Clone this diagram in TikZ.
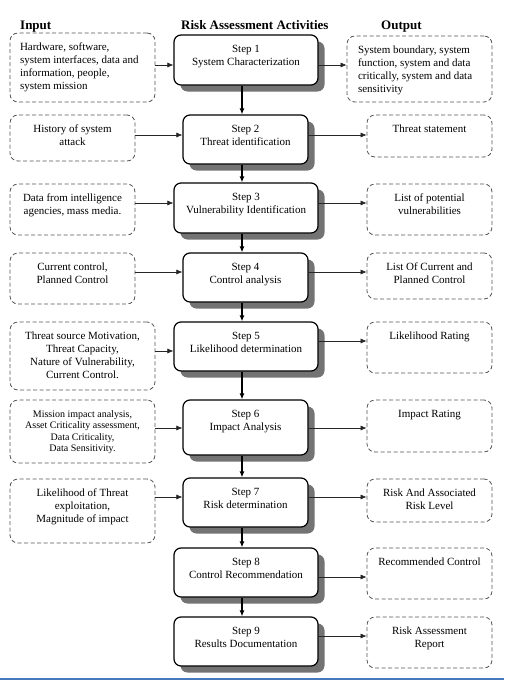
\documentclass[tikz,border=0pt]{standalone}
\usepackage{fontspec}
\setmainfont{Liberation Serif}
\usetikzlibrary{arrows.meta,shadows}
\definecolor{dashgray}{RGB}{85,85,85}
\definecolor{shadowgray}{RGB}{115,115,115}
\definecolor{edgeblue}{RGB}{70,120,190}
\newcommand\ctb[3]{\parbox[c][#2][t]{#1}{\centering\rule{0pt}{17pt}#3}}
\newcommand\ltb[3]{\parbox[c][#2][t]{#1}{\raggedright\rule{0pt}{17pt}#3}}
\begin{document}
\begin{tikzpicture}[x=1pt,y=-1pt,
  stepbox/.style={draw, line width=1.2pt, rounded corners=7pt, fill=white, inner sep=0pt,
    drop shadow={shadow xshift=6.5pt, shadow yshift=-6.5pt, fill=shadowgray, opacity=1},
    font=\fontsize{11}{13}\selectfont},
  iobox/.style={draw=dashgray, line width=0.8pt, dash pattern=on 4pt off 2.5pt, rounded corners=8pt,
    inner sep=0pt, fill=white, font=\fontsize{11}{13}\selectfont},
  hdr/.style={font=\fontsize{13}{15}\selectfont\bfseries, anchor=base west, inner sep=0pt},
  varr/.style={line width=1.3pt, -{Latex[length=6pt,width=5pt]}},
  harr/.style={line width=0.6pt, black!85, -{Latex[length=6pt,width=5pt]}}
]
\useasboundingbox (0,0) rectangle (504,680);
\fill[edgeblue] (0,678) rectangle (504,680);

% headers
\node[hdr] (hin) at (20,29.5) {Input};
\node[hdr] (hra) at (181,29.5) {Risk Assessment Activities};
\node[hdr] (hout) at (381,29.5) {Output};

% steps
\node[stepbox, minimum width=144pt, minimum height=50pt] (s1) at (246,60) {\ctb{140pt}{50pt}{Step 1\\System Characterization}};
\node[stepbox, minimum width=125pt, minimum height=49pt] (s2) at (245.5,139.5) {\ctb{121pt}{49pt}{Step 2\\Threat identification}};
\node[stepbox, minimum width=144pt, minimum height=50pt] (s3) at (246,208) {\ctb{140pt}{50pt}{Step 3\\Vulnerability Identification}};
\node[stepbox, minimum width=125pt, minimum height=49pt] (s4) at (245.5,277.5) {\ctb{121pt}{49pt}{Step 4\\Control analysis}};
\node[stepbox, minimum width=144pt, minimum height=49pt] (s5) at (246,346.5) {\ctb{140pt}{49pt}{Step 5\\Likelihood determination}};
\node[stepbox, minimum width=125pt, minimum height=55pt] (s6) at (245.5,427.5) {\ctb{121pt}{55pt}{Step 6\\Impact Analysis}};
\node[stepbox, minimum width=125pt, minimum height=49pt] (s7) at (245.5,502.5) {\ctb{121pt}{49pt}{Step 7\\Risk determination}};
\node[stepbox, minimum width=144pt, minimum height=49pt] (s8) at (246,572.5) {\ctb{140pt}{49pt}{Step 8\\Control Recommendation}};
\node[stepbox, minimum width=144pt, minimum height=49pt] (s9) at (246,641.5) {\ctb{140pt}{49pt}{Step 9\\Results Documentation}};

% inputs
\node[iobox, minimum width=145pt, minimum height=69pt] (i1) at (82.5,67.5) {\ltb{125pt}{69pt}{Hardware, software,\\system interfaces, data and\\information, people,\\system mission}};
\node[iobox, minimum width=125pt, minimum height=46pt] (i2) at (72.5,138) {\ctb{120pt}{46pt}{History of system\\attack}};
\node[iobox, minimum width=125pt, minimum height=51pt] (i3) at (72.5,209.5) {\ctb{120pt}{51pt}{Data from intelligence\\agencies, mass media.}};
\node[iobox, minimum width=125pt, minimum height=51pt] (i4) at (72.5,278.5) {\ctb{120pt}{51pt}{Current control,\\Planned Control}};
\node[iobox, minimum width=145pt, minimum height=68pt] (i5) at (82.5,356) {\ctb{140pt}{68pt}{Threat source Motivation,\\Threat Capacity,\\Nature of Vulnerability,\\Current Control.}};
\node[iobox, minimum width=145pt, minimum height=63pt, font=\fontsize{10}{11.5}\selectfont] (i6) at (82.5,431.5) {\ctb{140pt}{63pt}{Mission impact analysis,\\Asset Criticality assessment,\\Data Criticality,\\Data Sensitivity.}};
\node[iobox, minimum width=145pt, minimum height=64pt] (i7) at (82.5,511) {\ctb{140pt}{64pt}{Likelihood of Threat\\exploitation,\\Magnitude of impact}};

% outputs
\node[iobox, minimum width=145pt, minimum height=66pt] (o1) at (419.5,69) {\ltb{123pt}{66pt}{System boundary, system\\function, system and data\\critically, system and data\\sensitivity}};
\node[iobox, minimum width=125pt, minimum height=42pt] (o2) at (429.5,136) {\ctb{120pt}{42pt}{Threat statement}};
\node[iobox, minimum width=125pt, minimum height=51pt] (o3) at (429.5,209.5) {\ctb{120pt}{51pt}{List of potential\\vulnerabilities}};
\node[iobox, minimum width=125pt, minimum height=46pt] (o4) at (429.5,276) {\ctb{120pt}{46pt}{List Of Current and\\Planned Control}};
\node[iobox, minimum width=125pt, minimum height=51pt] (o5) at (429.5,347.5) {\ctb{120pt}{51pt}{Likelihood Rating}};
\node[iobox, minimum width=125pt, minimum height=52pt] (o6) at (429.5,426) {\ctb{120pt}{52pt}{Impact Rating}};
\node[iobox, minimum width=125pt, minimum height=43pt] (o7) at (429.5,500.5) {\ctb{120pt}{43pt}{Risk And Associated\\Risk Level}};
\node[iobox, minimum width=125pt, minimum height=51pt] (o8) at (429.5,573.5) {\ctb{122pt}{51pt}{Recommended Control}};
\node[iobox, minimum width=125pt, minimum height=51pt] (o9) at (429.5,642.5) {\ctb{120pt}{51pt}{Risk Assessment\\Report}};

% row coordinates
\coordinate (r1) at (0,65);
\coordinate (r2) at (0,135);
\coordinate (r3) at (0,203);
\coordinate (r4) at (0,272);
\coordinate (r5a) at (0,351);
\coordinate (r5b) at (0,341);
\coordinate (r6) at (0,428);
\coordinate (r7) at (0,497);
\coordinate (r8) at (0,577);
\coordinate (r9) at (0,636);
\coordinate (vx) at (242,0);

% horizontal arrows
\draw[harr] (i1.east |- r1) -- (s1.west |- r1);
\draw[harr] (s1.east |- r1) -- (o1.west |- r1);
\draw[harr] (i2.east |- r2) -- (s2.west |- r2);
\draw[harr] (s2.east |- r2) -- (o2.west |- r2);
\draw[harr] (i3.east |- r3) -- (s3.west |- r3);
\draw[harr] (s3.east |- r3) -- (o3.west |- r3);
\draw[harr] (i4.east |- r4) -- (s4.west |- r4);
\draw[harr] (s4.east |- r4) -- (o4.west |- r4);
\draw[harr] (i5.east |- r5a) -- (s5.west |- r5a);
\draw[harr] (s5.east |- r5b) -- (o5.west |- r5b);
\draw[harr] (i6.east |- r6) -- (s6.west |- r6);
\draw[harr] (s6.east |- r6) -- (o6.west |- r6);
\draw[harr] (i7.east |- r7) -- (s7.west |- r7);
\draw[harr] (s7.east |- r7) -- (o7.west |- r7);
\draw[harr] (s8.east |- r8) -- (o8.west |- r8);
\draw[harr] (s9.east |- r9) -- (o9.west |- r9);

% vertical arrows
\draw[varr] (s1.south -| vx) -- (s2.north -| vx);
\draw[varr] (s2.south -| vx) -- (s3.north -| vx);
\draw[varr] (s3.south -| vx) -- (s4.north -| vx);
\draw[varr] (s4.south -| vx) -- (s5.north -| vx);
\draw[varr] (s5.south -| vx) -- (s6.north -| vx);
\draw[varr] (s6.south -| vx) -- (s7.north -| vx);
\draw[varr] (s7.south -| vx) -- (s8.north -| vx);
\draw[varr] (s8.south -| vx) -- (s9.north -| vx);
\end{tikzpicture}
\end{document}
